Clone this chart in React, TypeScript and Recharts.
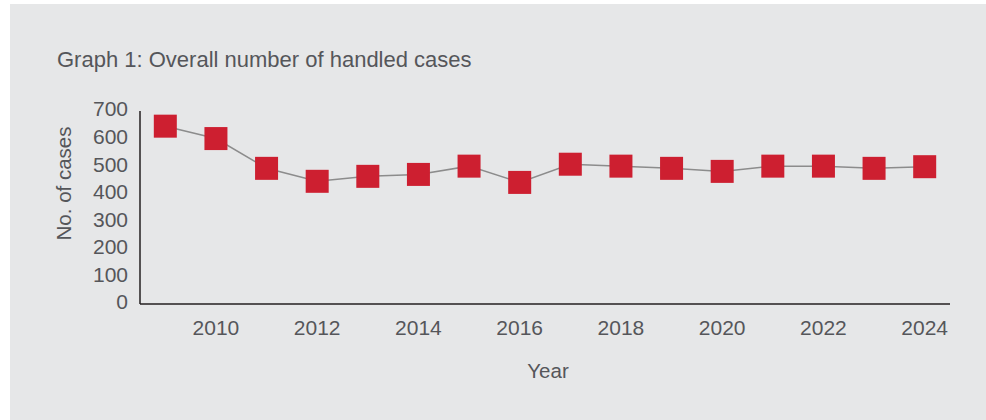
import { LineChart, Line, XAxis, YAxis, Label } from 'recharts';

const years = [2009, 2010, 2011, 2012, 2013, 2014, 2015, 2016, 2017, 2018, 2019, 2020, 2021, 2022, 2023, 2024];
const cases = [645, 600, 492, 445, 463, 470, 500, 441, 507, 500, 492, 481, 500, 500, 492, 498];
const yearTicks = [2010, 2012, 2014, 2016, 2018, 2020, 2022, 2024];
const caseTicks = [0, 100, 200, 300, 400, 500, 600, 700];

const TEXT = '#55565a';
const RED = '#cd1f30';
const FONT = '"Liberation Sans", Arial, Helvetica, sans-serif';

const data = years.map((year, i) => ({ year, cases: cases[i] }));

const SquareDot = (props: any) => {
  const { cx, cy, index } = props;
  if (cx == null || cy == null) return null;
  return <rect key={`sq-${index}`} x={cx - 11.5} y={cy - 11.5} width={23} height={23} fill={RED} />;
};

const YTitle = (props: any) => {
  const { viewBox } = props;
  const cx = viewBox.x + 53;
  const cy = viewBox.y + viewBox.height / 2 - 24;
  return (
    <text
      x={cx}
      y={cy}
      transform={`rotate(-90, ${cx}, ${cy})`}
      textAnchor="middle"
      dominantBaseline="central"
      fill={TEXT}
      fontSize={20.5}
      fontFamily={FONT}
    >
      No. of cases
    </text>
  );
};

export default function App() {
  return (
    <div style={{ position: 'absolute', left: 0, top: 0, width: 986, height: 420, background: '#fff' }}>
      <div style={{ position: 'absolute', left: 10, top: 4, width: 976, height: 416, background: '#e6e7e8' }}>
        <div
          style={{
            position: 'absolute',
            left: 47,
            top: 45,
            fontFamily: FONT,
            fontSize: 22,
            lineHeight: '22px',
            color: TEXT,
            whiteSpace: 'nowrap',
          }}
        >
          Graph 1: Overall number of handled cases
        </div>
        <LineChart width={976} height={416} data={data} margin={{ top: 107, right: 36, bottom: 38, left: 0 }}>
          <XAxis
            dataKey="year"
            type="number"
            domain={[2008.5, 2024.5]}
            ticks={yearTicks}
            interval={0}
            tickLine={false}
            tickSize={0}
            tickMargin={16}
            height={78}
            axisLine={{ stroke: '#231f20', strokeWidth: 1.5 }}
            tick={{ fill: TEXT, fontSize: 21, fontFamily: FONT }}
          >
            <Label value="Year" position="insideBottom" offset={4} dx={3} fill={TEXT} fontSize={20.5} fontFamily={FONT} />
          </XAxis>
          <YAxis
            type="number"
            domain={[0, 700]}
            ticks={caseTicks}
            interval={0}
            width={130}
            tickLine={false}
            tickSize={0}
            tickMargin={12}
            axisLine={{ stroke: '#231f20', strokeWidth: 1.5 }}
            tick={{ fill: TEXT, fontSize: 21, fontFamily: FONT, dy: -2 }}
          >
            <Label content={<YTitle />} />
          </YAxis>
          <Line
            dataKey="cases"
            type="linear"
            stroke="#8c8c8c"
            strokeWidth={1.5}
            dot={SquareDot}
            activeDot={false}
            isAnimationActive={false}
          />
        </LineChart>
      </div>
    </div>
  );
}
